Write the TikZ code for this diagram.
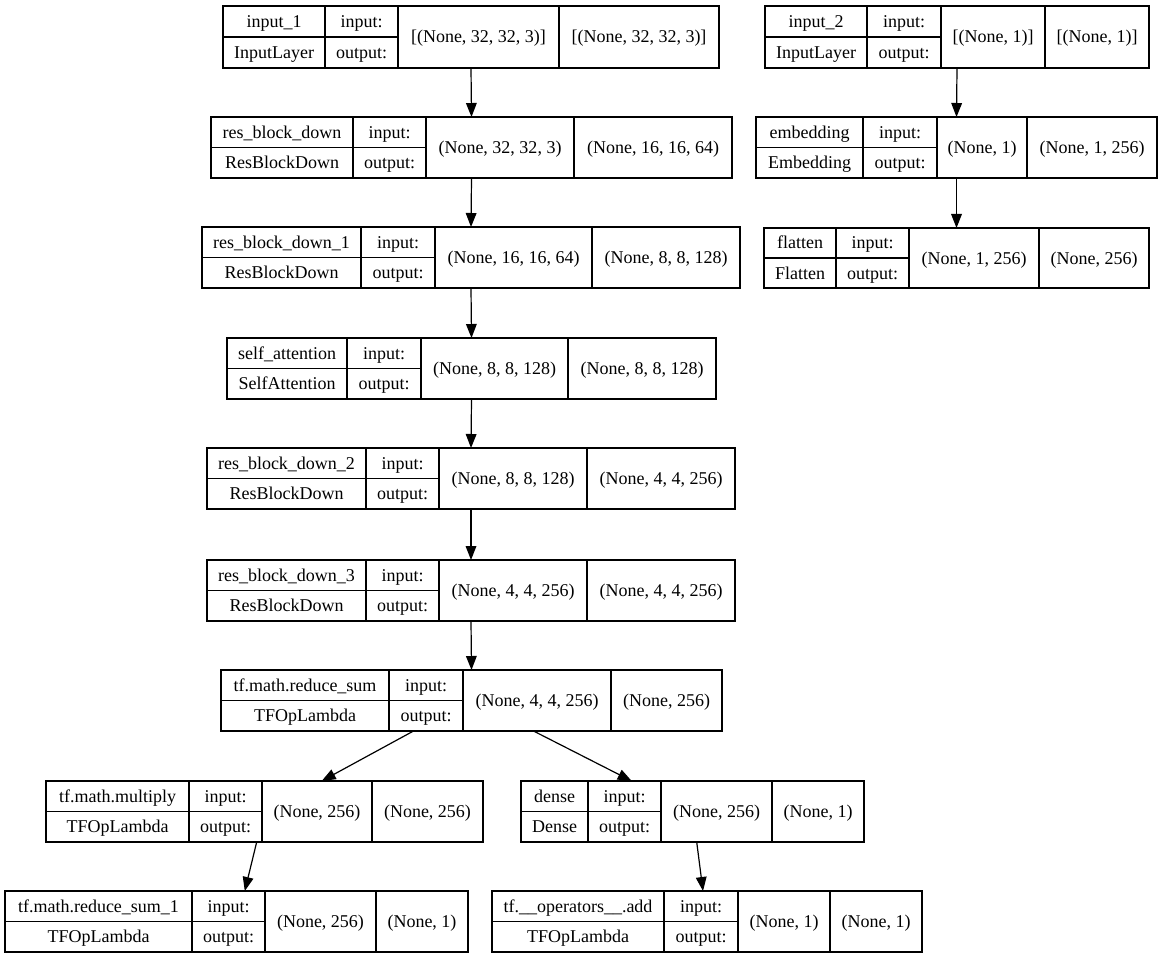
\documentclass[tikz,border=0pt]{standalone}
\usepackage{fontspec}
\setmainfont{Liberation Serif}
\usetikzlibrary{arrows.meta}
\tikzset{
  rec/.style={draw=black, line width=0.9pt, inner sep=0pt, outer sep=0pt},
  cell/.style={draw=black, line width=0.9pt},
  lbl/.style={inner sep=0pt, font=\fontsize{13.5pt}{16pt}\selectfont, text height=11pt, text depth=2pt},
  arr/.style={draw=black, line width=0.9pt, -{Triangle[length=10.5pt,width=8pt]}}
}
\newcommand\layerbox[8]{%
  \node[rec, minimum width={(#6-#2)*0.75pt}, minimum height={(#8-#7)*0.75pt}] (#1) at ({(#2+#6)/2},{(#7+#8)/2}) {};
  \draw[cell] (#3,#7) -- (#3,#8) (#4,#7) -- (#4,#8) (#5,#7) -- (#5,#8) (#2,{(#7+#8)/2}) -- (#4,{(#7+#8)/2});
  \coordinate (#1-n) at ({(#2+#3)/2},{(3*#7+#8)/4});
  \coordinate (#1-c) at ({(#2+#3)/2},{(#7+3*#8)/4});
  \coordinate (#1-i) at ({(#3+#4)/2},{(3*#7+#8)/4});
  \coordinate (#1-o) at ({(#3+#4)/2},{(#7+3*#8)/4});
  \coordinate (#1-s) at ({(#4+#5)/2},{(#7+#8)/2});
  \coordinate (#1-t) at ({(#5+#6)/2},{(#7+#8)/2});
}
\newcommand\layertext[5]{%
  \node[lbl] (#1-nt) at (#1-n) {#2};
  \node[lbl] (#1-ct) at (#1-c) {#3};
  \node[lbl] (#1-it) at (#1-i) {input:};
  \node[lbl] (#1-ot) at (#1-o) {output:};
  \node[lbl] (#1-st) at (#1-s) {#4};
  \node[lbl] (#1-tt) at (#1-t) {#5};
}
\begin{document}
\begin{tikzpicture}[x=0.75pt, y=-0.75pt]
\useasboundingbox (0,0) rectangle (1163,959);
\fill[white] (0,0) rectangle (1163,959);

\layerbox{in1}{223}{325}{398}{559}{719}{6}{68}
\layertext{in1}{input\_1}{InputLayer}{[(None, 32, 32, 3)]}{[(None, 32, 32, 3)]}

\layerbox{in2}{765}{867}{941}{1045}{1149}{6}{68}
\layertext{in2}{input\_2}{InputLayer}{[(None, 1)]}{[(None, 1)]}

\layerbox{rbd}{211}{353}{426}{574}{732}{117}{178}
\layertext{rbd}{res\_block\_down}{ResBlockDown}{(None, 32, 32, 3)}{(None, 16, 16, 64)}

\layerbox{emb}{756}{863}{937}{1027}{1157}{117}{178}
\layertext{emb}{embedding}{Embedding}{(None, 1)}{(None, 1, 256)}

\layerbox{rbd1}{202}{361}{435}{592}{740}{227}{288}
\layertext{rbd1}{res\_block\_down\_1}{ResBlockDown}{(None, 16, 16, 64)}{(None, 8, 8, 128)}

\layerbox{flat}{764}{836}{909}{1039}{1149}{228}{288}
\layertext{flat}{flatten}{Flatten}{(None, 1, 256)}{(None, 256)}

\layerbox{sa}{227}{347}{421}{568}{716}{338}{399}
\layertext{sa}{self\_attention}{SelfAttention}{(None, 8, 8, 128)}{(None, 8, 8, 128)}

\layerbox{rbd2}{207}{366}{439}{587}{735}{448}{509}
\layertext{rbd2}{res\_block\_down\_2}{ResBlockDown}{(None, 8, 8, 128)}{(None, 4, 4, 256)}

\layerbox{rbd3}{207}{366}{439}{587}{735}{560}{621}
\layertext{rbd3}{res\_block\_down\_3}{ResBlockDown}{(None, 4, 4, 256)}{(None, 4, 4, 256)}

\layerbox{rs}{221}{389}{463}{611}{722}{670}{731}
\layertext{rs}{tf.math.reduce\_sum}{TFOpLambda}{(None, 4, 4, 256)}{(None, 256)}

\layerbox{mul}{46}{189}{262}{372}{483}{781}{842}
\layertext{mul}{tf.math.multiply}{TFOpLambda}{(None, 256)}{(None, 256)}

\layerbox{dense}{521}{588}{661}{772}{864}{781}{842}
\layertext{dense}{dense}{Dense}{(None, 256)}{(None, 1)}

\layerbox{rs1}{5}{192}{265}{376}{468}{891}{952}
\layertext{rs1}{tf.math.reduce\_sum\_1}{TFOpLambda}{(None, 256)}{(None, 1)}

\layerbox{add}{492}{664}{738}{830}{922}{891}{952}
\layertext{add}{tf.\_\_operators\_\_.add}{TFOpLambda}{(None, 1)}{(None, 1)}

\draw[arr] (in1.south) -- (rbd.north);
\draw[arr] (rbd.south) -- (rbd1.north);
\draw[arr] (rbd1.south) -- (sa.north);
\draw[arr] (sa.south) -- (rbd2.north);
\draw[arr] (rbd2.south) -- (rbd3.north);
\draw[arr] (rbd3.south) -- (rs.north);
\draw[arr] (in2.south) -- (emb.north);
\draw[arr] (emb.south) -- (flat.north);
\draw[arr] ([xshift=-43.5pt]rs.south) -- ([xshift=42.9pt]mul.north);
\draw[arr] ([xshift=46.5pt]rs.south) -- ([xshift=-45.6pt]dense.north);
\draw[arr] ([xshift=-5.85pt]mul.south) -- ([xshift=6.2pt]rs1.north);
\draw[arr] ([xshift=3.15pt]dense.south) -- ([xshift=-3pt]add.north);
\end{tikzpicture}
\end{document}
